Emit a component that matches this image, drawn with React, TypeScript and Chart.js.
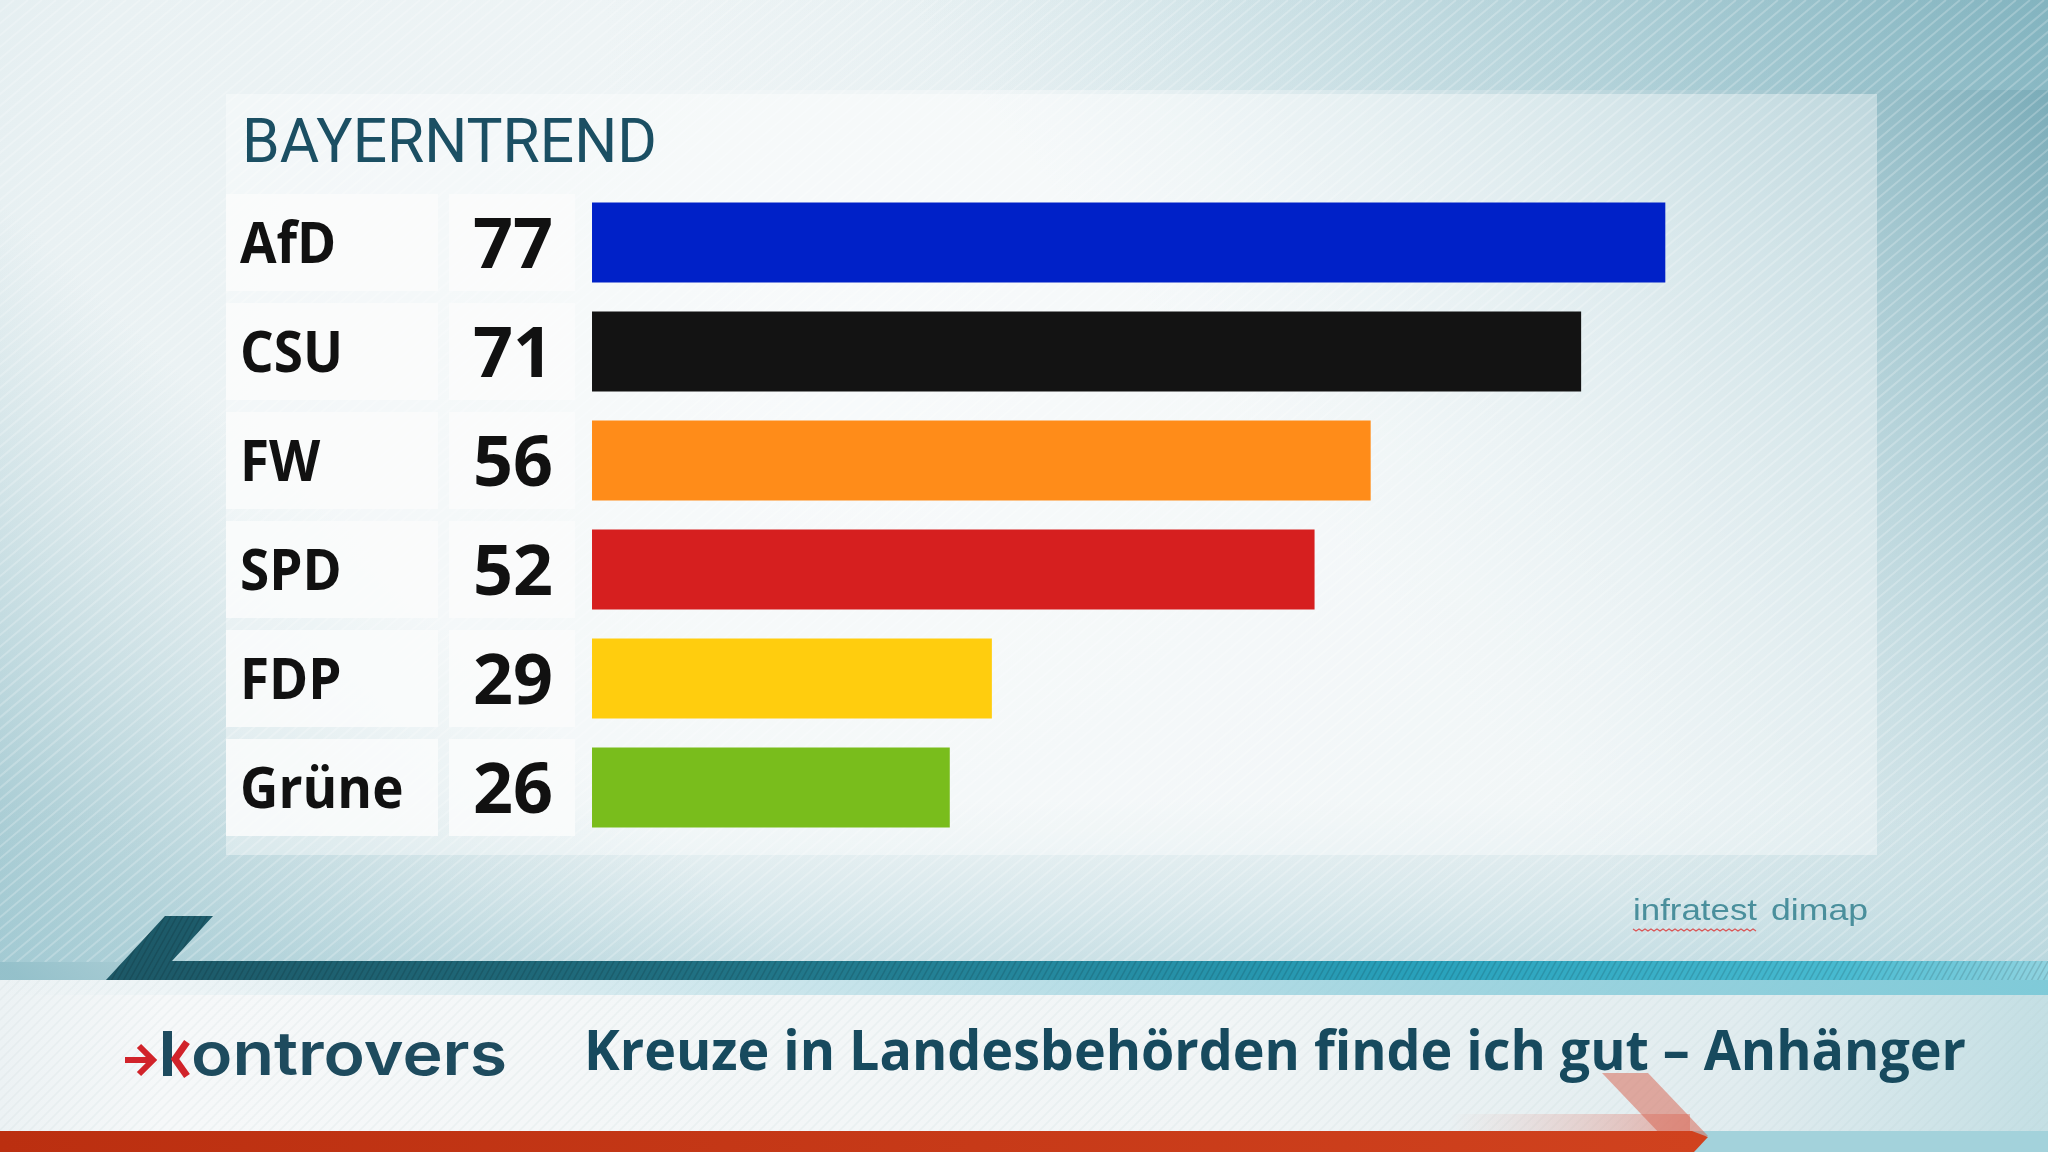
import React, { useEffect, useRef } from "react";
import { Chart, registerables } from "chart.js";

Chart.register(...registerables);

// ---------- data ----------
const categories = ["AfD", "CSU", "FW", "SPD", "FDP", "Grüne"];
const values = [77, 71, 56, 52, 29, 26];
const barColors = ["#0021c8", "#131313", "#ff8c19", "#d61f1f", "#ffcd0e", "#79bd1c"];
const headerText = "BAYERNTREND";
const captionText = "Kreuze in Landesbehörden finde ich gut – Anhänger";
const brandText = "ontrovers";
const sourceWords = ["infratest", "dimap"];
const axisMax = 100;
const barBase = 0.5;

const W = 2048;
const H = 1152;

function fitText(
  ctx: CanvasRenderingContext2D,
  text: string,
  x: number,
  baseline: number,
  width: number,
  font: string,
  color: string
) {
  ctx.save();
  ctx.font = font;
  ctx.fillStyle = color;
  ctx.textAlign = "left";
  ctx.textBaseline = "alphabetic";
  const w = ctx.measureText(text).width;
  ctx.translate(x, baseline);
  ctx.scale(width / w, 1);
  ctx.fillText(text, 0, 0);
  ctx.restore();
}

function stripes(
  ctx: CanvasRenderingContext2D,
  x0: number,
  y0: number,
  w: number,
  h: number,
  step: number,
  slope: number,
  color: string,
  lw: number
) {
  ctx.save();
  ctx.beginPath();
  ctx.rect(x0, y0, w, h);
  ctx.clip();
  ctx.strokeStyle = color;
  ctx.lineWidth = lw;
  ctx.beginPath();
  const run = h / slope;
  for (let k = x0 - run; k < x0 + w + step; k += step) {
    ctx.moveTo(k, y0 + h);
    ctx.lineTo(k + run, y0);
  }
  ctx.stroke();
  ctx.restore();
}

function paintBackground(ctx: CanvasRenderingContext2D) {
  ctx.fillStyle = "#e8f0f2";
  ctx.fillRect(0, 0, W, H);

  let g = ctx.createRadialGradient(850, 380, 40, 850, 380, 1450);
  g.addColorStop(0, "#f3f7f8");
  g.addColorStop(0.55, "#e9f1f3");
  g.addColorStop(1, "#d2e4e8");
  ctx.fillStyle = g;
  ctx.fillRect(0, 0, W, H);

  // top-right teal corner
  g = ctx.createLinearGradient(2048, 0, 1350, 560);
  g.addColorStop(0, "rgba(105,160,174,0.95)");
  g.addColorStop(0.4, "rgba(140,186,197,0.55)");
  g.addColorStop(1, "rgba(200,225,230,0)");
  ctx.fillStyle = g;
  ctx.fillRect(0, 0, W, H);

  // top band toward the right
  g = ctx.createLinearGradient(600, 0, 2048, 0);
  g.addColorStop(0, "rgba(180,210,217,0)");
  g.addColorStop(1, "rgba(150,195,205,0.5)");
  ctx.fillStyle = g;
  ctx.fillRect(0, 0, W, 90);

  // bottom-left teal
  g = ctx.createLinearGradient(0, 960, 380, 560);
  g.addColorStop(0, "rgba(135,185,196,0.85)");
  g.addColorStop(1, "rgba(180,210,216,0)");
  ctx.fillStyle = g;
  ctx.fillRect(0, 0, W, H);

  // lower band above the banner
  g = ctx.createLinearGradient(0, 800, 0, 962);
  g.addColorStop(0, "rgba(190,218,224,0)");
  g.addColorStop(1, "rgba(175,210,218,0.55)");
  ctx.fillStyle = g;
  ctx.fillRect(0, 800, W, 162);

  stripes(ctx, 0, 0, W, 962, 14, 0.84, "rgba(255,255,255,0.22)", 2);

  // panel
  ctx.fillStyle = "rgba(255,255,255,0.38)";
  ctx.fillRect(226, 94, 1651, 761);

  // header
  fitText(ctx, headerText, 242, 162, 415, '62px "Roboto", "Liberation Sans", sans-serif', "#1b4f63");
}

function paintBanner(ctx: CanvasRenderingContext2D) {
  // white band
  let g = ctx.createLinearGradient(0, 0, W, 0);
  g.addColorStop(0, "#ecf2f4");
  g.addColorStop(0.08, "#f6f8f9");
  g.addColorStop(0.6, "#f1f5f6");
  g.addColorStop(0.85, "#e1ecef");
  g.addColorStop(1, "#c4dfe4");
  ctx.fillStyle = g;
  ctx.fillRect(0, 980, W, 151);
  stripes(ctx, 0, 980, W, 151, 10, 1.0, "rgba(170,195,200,0.12)", 1.5);

  // light teal band under the teal bar
  g = ctx.createLinearGradient(0, 0, W, 0);
  g.addColorStop(0, "rgba(140,200,215,0)");
  g.addColorStop(0.5, "rgba(120,195,212,0.45)");
  g.addColorStop(1, "rgba(120,200,215,0.9)");
  ctx.fillStyle = g;
  ctx.fillRect(0, 980, W, 15);

  // teal bar with slanted hook
  ctx.save();
  ctx.beginPath();
  ctx.moveTo(106, 980);
  ctx.lineTo(165, 916);
  ctx.lineTo(213, 916);
  ctx.lineTo(172, 961);
  ctx.lineTo(W, 961);
  ctx.lineTo(W, 980);
  ctx.closePath();
  g = ctx.createLinearGradient(0, 0, W, 0);
  g.addColorStop(0, "#1c5462");
  g.addColorStop(0.3, "#1f6b7c");
  g.addColorStop(0.7, "#29a2bc");
  g.addColorStop(0.9, "#48bad0");
  g.addColorStop(1, "#8fd3e0");
  ctx.fillStyle = g;
  ctx.fill();
  ctx.clip();
  stripes(ctx, 0, 900, W, 90, 6, 1.8, "rgba(0,0,0,0.12)", 1.5);
  ctx.restore();

  // right strip under red band
  ctx.fillStyle = "#a3d2db";
  ctx.fillRect(1680, 1131, W - 1680, 21);

  // pink fade above red band
  g = ctx.createLinearGradient(1450, 0, 1690, 0);
  g.addColorStop(0, "rgba(230,150,140,0)");
  g.addColorStop(1, "rgba(222,115,100,0.5)");
  ctx.fillStyle = g;
  ctx.fillRect(1450, 1114, 240, 17);

  // chevron arm
  ctx.beginPath();
  ctx.moveTo(1602, 1073);
  ctx.lineTo(1648, 1073);
  ctx.lineTo(1708, 1136);
  ctx.lineTo(1662, 1136);
  ctx.closePath();
  ctx.fillStyle = "rgba(215,95,75,0.5)";
  ctx.fill();

  // red band
  ctx.beginPath();
  ctx.moveTo(0, 1131);
  ctx.lineTo(1692, 1131);
  ctx.lineTo(1708, 1137);
  ctx.lineTo(1694, 1152);
  ctx.lineTo(0, 1152);
  ctx.closePath();
  g = ctx.createLinearGradient(0, 0, 1700, 0);
  g.addColorStop(0, "#bb2f10");
  g.addColorStop(1, "#d0421e");
  ctx.fillStyle = g;
  ctx.fill();

  // logo
  const red = "#d1232a";
  const dark = "#1e4b5e";
  ctx.save();
  ctx.strokeStyle = red;
  ctx.lineWidth = 6;
  ctx.lineCap = "butt";
  ctx.beginPath();
  ctx.moveTo(125, 1060);
  ctx.lineTo(151, 1060);
  ctx.stroke();
  ctx.beginPath();
  ctx.moveTo(139, 1046);
  ctx.lineTo(153, 1060);
  ctx.lineTo(139, 1074);
  ctx.stroke();
  ctx.fillStyle = dark;
  ctx.fillRect(163, 1031, 9, 45);
  ctx.lineWidth = 7;
  ctx.beginPath();
  ctx.moveTo(187, 1042);
  ctx.lineTo(175, 1059);
  ctx.lineTo(187, 1076);
  ctx.stroke();
  ctx.restore();
  fitText(ctx, brandText, 191, 1075, 316, '600 60px "Inter", "DejaVu Sans", sans-serif', dark);

  // caption
  fitText(ctx, captionText, 584, 1070, 1382, 'bold 56px "Open Sans", "Noto Sans", sans-serif', "#174a5e");

  // source
  const srcColor = "#4a8f9c";
  fitText(ctx, sourceWords[0], 1633, 920, 124, '30px "Liberation Sans Narrow", "Liberation Sans", Arial, sans-serif', srcColor);
  fitText(ctx, sourceWords[1], 1771, 920, 97, '30px "Liberation Sans Narrow", "Liberation Sans", Arial, sans-serif', srcColor);
  ctx.save();
  ctx.strokeStyle = "rgba(220,60,60,0.85)";
  ctx.lineWidth = 1.2;
  ctx.beginPath();
  for (let x = 1633; x <= 1757; x += 3) {
    const yy = 929 + (((x - 1633) / 3) % 2 === 0 ? 0 : 2);
    if (x === 1633) ctx.moveTo(x, yy);
    else ctx.lineTo(x, yy);
  }
  ctx.stroke();
  ctx.restore();
}

const backdropPlugin = {
  id: "backdrop",
  beforeDraw(chart: any) {
    const ctx = chart.ctx as CanvasRenderingContext2D;
    ctx.save();
    paintBackground(ctx);
    paintBanner(ctx);
    ctx.restore();
  },
};

const rowsPlugin = {
  id: "rows",
  beforeDatasetsDraw(chart: any) {
    const ctx = chart.ctx as CanvasRenderingContext2D;
    const ys = chart.scales.y;
    ctx.save();
    categories.forEach((_, i) => {
      const cy = ys.getPixelForValue(i);
      ctx.fillStyle = "rgba(250,251,251,0.85)";
      ctx.fillRect(226, cy - 48.5, 212, 97);
      ctx.fillRect(449, cy - 48.5, 126, 97);
    });
    ctx.restore();
  },
  afterDatasetsDraw(chart: any) {
    const ctx = chart.ctx as CanvasRenderingContext2D;
    const ys = chart.scales.y;
    ctx.save();
    ctx.fillStyle = "#111111";
    ctx.textBaseline = "alphabetic";
    categories.forEach((c, i) => {
      const cy = ys.getPixelForValue(i);
      ctx.save();
      ctx.font = 'bold 57px "Open Sans", "Noto Sans", sans-serif';
      ctx.textAlign = "left";
      ctx.translate(240, cy + 20);
      ctx.scale(0.93, 1);
      ctx.fillText(c, 0, 0);
      ctx.restore();
      ctx.font = 'bold 70px "Open Sans", "Noto Sans", sans-serif';
      ctx.textAlign = "center";
      ctx.fillText(String(values[i]), 513, cy + 25);
    });
    ctx.restore();
  },
};

export default function App() {
  const ref = useRef<HTMLCanvasElement | null>(null);
  useEffect(() => {
    document.body.style.margin = "0";
    const canvas = ref.current;
    if (!canvas) return;
    const chart = new Chart(canvas, {
      type: "bar",
      data: {
        labels: categories,
        datasets: [
          {
            data: values,
            base: barBase,
            backgroundColor: barColors,
            borderWidth: 0,
            barPercentage: 0.734,
            categoryPercentage: 1,
          },
        ],
      },
      options: {
        indexAxis: "y",
        responsive: false,
        animation: false,
        devicePixelRatio: 1,
        layout: { padding: { left: 585, right: 60, top: 188, bottom: 310 } },
        plugins: {
          legend: { display: false },
          tooltip: { enabled: false },
          title: { display: false },
        },
        scales: {
          x: { display: false, min: 0, max: axisMax },
          y: { display: false },
        },
      },
      plugins: [backdropPlugin, rowsPlugin],
    } as any);
    return () => chart.destroy();
  }, []);
  return (
    <div style={{ position: "fixed", left: 0, top: 0, width: W, height: H }}>
      <canvas ref={ref} width={W} height={H} style={{ width: W, height: H, display: "block" }} />
    </div>
  );
}
